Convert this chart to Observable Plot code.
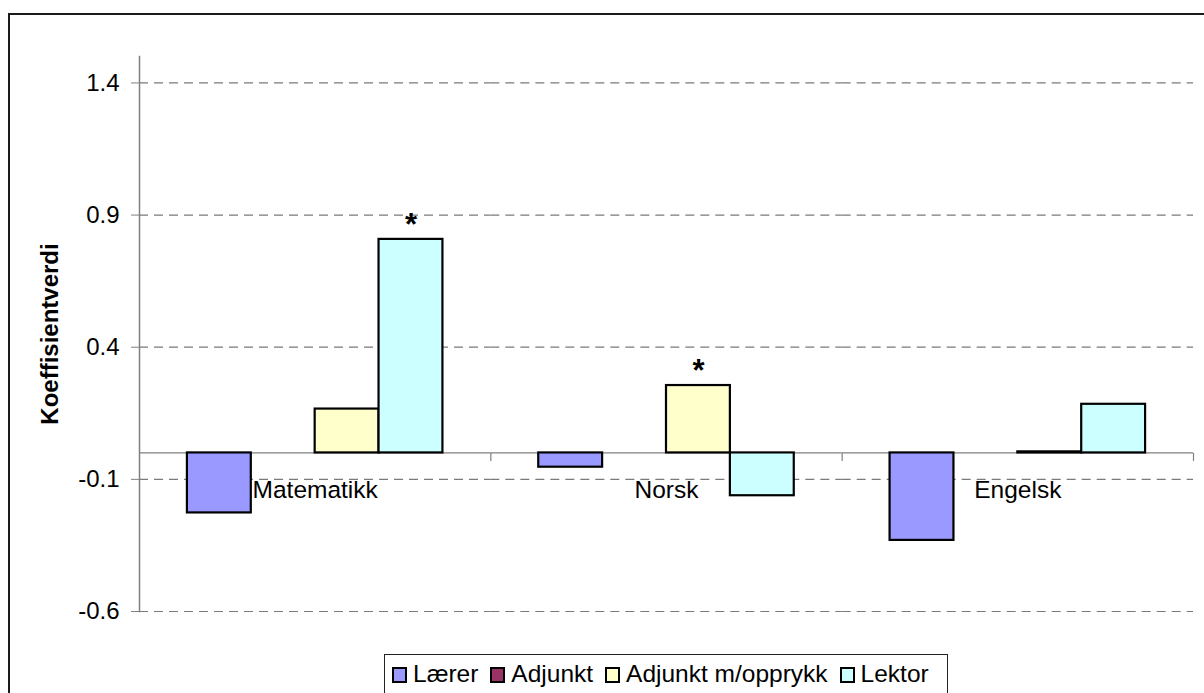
<!DOCTYPE html>
<html>
<head>
<meta charset="utf-8">
<script src="https://cdn.jsdelivr.net/npm/d3@7"></script>
<script src="https://cdn.jsdelivr.net/npm/@observablehq/plot@0.6"></script>
<style>
  html, body { margin: 0; padding: 0; background: white; overflow: hidden; }
  body { font-family: "Liberation Sans", Arial, sans-serif; }
  #wrap { position: relative; width: 1204px; height: 693px; }
  #border {
    position: absolute; left: 8px; top: 13px; width: 1300px; height: 800px;
    border: 2px solid #1a1a1a; pointer-events: none; z-index: 2;
  }
  #chart svg { display: block; }
  #chart g[aria-label="y-axis label"] text { font-weight: bold; }
  #legend {
    box-sizing: border-box;
    margin-left: 384px; width: 564px; height: 45px;
    border: 1px solid #222; padding: 5px 0 0 7px;
    display: flex; align-items: flex-start;
    font-size: 24.5px; line-height: 28px; color: black;
  }
  #legend .item { display: flex; align-items: baseline; margin-right: 12px; white-space: nowrap; }
  #legend .sw {
    box-sizing: border-box; width: 15px; height: 16px; border: 2.5px solid #000;
    margin-right: 6px; display: inline-block; position: relative; top: 1px;
  }
</style>
</head>
<body>
<div id="wrap">
  <div id="border"></div>
  <div id="chart"></div>
  <div id="legend"></div>
</div>
<script>
// Subjects along the horizontal axis
const categories = ["Matematikk", "Norsk", "Engelsk"];
// Teacher qualification groups (one bar each per subject)
const series = ["Lærer", "Adjunkt", "Adjunkt m/opprykk", "Lektor"];
const seriesColors = ["#9999FF", "#993366", "#FFFFCC", "#CCFFFF"];

// Coefficient values per subject, in the order of `categories`
const laerer = [-0.227, -0.054, -0.331];
const adjunkt = [null, null, null];
const adjunktOpprykk = [0.166, 0.255, 0.004];
const lektor = [0.808, -0.162, 0.184];

// Significant coefficients, marked with an asterisk
const significant = [["Matematikk", "Lektor"], ["Norsk", "Adjunkt m/opprykk"]];

// Value axis
const yTicks = [-0.6, -0.1, 0.4, 0.9, 1.4];
const yDomain = [-0.6, 1.5];
const yTitle = "Koeffisientverdi";

const valuesBySeries = [laerer, adjunkt, adjunktOpprykk, lektor];
const rows = series.flatMap((s, si) =>
  categories.map((c, ci) => ({category: c, series: s, value: valuesBySeries[si][ci]}))
);
const bars = rows.filter(d => d.value != null);
const starred = bars.filter(d => significant.some(([c, s]) => c === d.category && s === d.series));

// short downward tick used for category separators on the zero line
const tickDown = {draw(context) { context.moveTo(0, 0); context.lineTo(0, 8); }};

const chart = Plot.plot({
  width: 1204,
  height: 654,
  marginLeft: 139,
  marginRight: 11,
  marginTop: 56,
  marginBottom: 43,
  style: {fontFamily: "'Liberation Sans', Arial, sans-serif", fontSize: "24px", color: "black", background: "white"},
  fx: {domain: categories, padding: 0, round: false, axis: null},
  x: {domain: series, paddingInner: 0, paddingOuter: 0.75, round: false, axis: null},
  y: {domain: yDomain, axis: null},
  color: {domain: series, range: seriesColors},
  marks: [
    Plot.gridY(yTicks, {stroke: "#7a7a7a", strokeOpacity: 1, strokeWidth: 1.2, strokeDasharray: "9,6"}),
    Plot.ruleY([0], {stroke: "#808080", strokeWidth: 1.2}),
    Plot.dot([0], {y: d => d, frameAnchor: "right", symbol: tickDown, stroke: "#808080", fill: "none", strokeWidth: 1.2}),
    Plot.frame({anchor: "left", facetAnchor: "left", stroke: "#808080", strokeWidth: 1.5}),
    Plot.axisY(yTicks, {
      tickSize: 8, tickPadding: 12, stroke: "#808080", fill: "black",
      tickFormat: d => d.toFixed(1), fontSize: 24,
      label: yTitle, labelAnchor: "center", labelOffset: 99, labelArrow: "none"
    }),
    Plot.barY(bars, {fx: "category", x: "series", y: "value", fill: "series", stroke: "black", strokeWidth: 2.2}),
    Plot.text(starred, {fx: "category", x: "series", y: "value", text: () => "*", dy: -14, fontWeight: "bold", fontSize: 31}),
    Plot.text(categories, {fx: d => d, y: () => 0, text: d => d, dy: 37, fontSize: 24.5})
  ]
});
document.getElementById("chart").appendChild(chart);

// Legend below the chart
const color = chart.scale("color");
const legend = d3.select("#legend");
series.forEach(s => {
  const item = legend.append("div").attr("class", "item");
  item.append("span").attr("class", "sw").style("background", color.apply(s));
  item.append("span").text(s);
});
</script>
</body>
</html>
